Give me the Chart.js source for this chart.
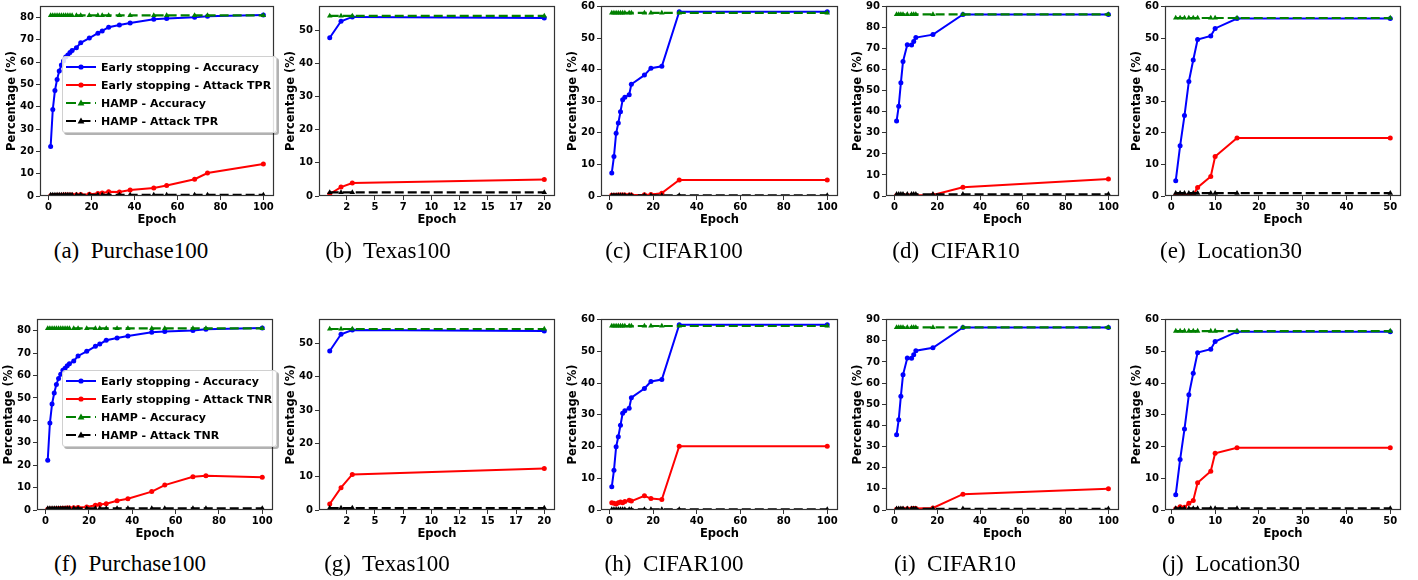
<!DOCTYPE html>
<html>
<head>
<meta charset="utf-8">
<script src="https://cdn.jsdelivr.net/npm/chart.js@4.4.1/dist/chart.umd.min.js"></script>
<style>
body { margin:0; background:#fff; width:1418px; height:580px; position:relative; overflow:hidden; }
canvas { position:absolute; }
.cap { position:absolute; font-family:'Liberation Serif','Times New Roman',serif; font-size:23px; line-height:23px; color:#000; white-space:pre; transform:translateX(-50%); }
.legend { position:absolute; box-sizing:border-box; background:rgba(255,255,255,0.85); border:1px solid #d0d0d0; border-radius:3px; box-shadow:2px 2px 0 rgba(0,0,0,0.3); font-family:'DejaVu Sans',sans-serif; font-weight:bold; font-size:11px; color:#000; }
.legend .row { position:absolute; left:2px; height:18px; display:flex; align-items:center; white-space:nowrap; }
</style>
</head>
<body>
<script>
// Purchase100
let purchaseEpochs = [1,2,3,4,5,6,7,8,9,10,11,13,15,19,23,25,28,33,38,49,55,68,74,100];
let purchaseAcc = [22.2,38.8,47.3,52.2,56.0,58.7,60.5,62.3,63.2,64.3,65.2,66.5,68.7,70.8,73.0,74.0,75.7,76.7,77.6,79.3,79.6,80.1,80.6,81.2];
let purchaseTPR = [0.1,0.2,0.2,0.3,0.3,0.3,0.4,0.4,0.5,0.5,0.5,0.6,0.7,0.8,1.1,1.4,1.9,1.8,2.7,3.6,4.7,7.5,10.3,14.3];
let purchaseTNR = [0.3,0.4,0.5,0.5,0.6,0.6,0.7,0.8,0.8,0.9,0.9,1.0,1.1,1.3,2.1,2.5,2.8,4.1,5.0,8.2,11.1,14.8,15.3,14.6];
let purchaseHampAcc = [81.0,81.0,81.0,81.0,81.0,81.0,81.0,81.0,81.0,81.0,81.0,81.0,81.0,81.0,81.0,81.0,81.0,81.0,81.0,81.0,81.0,81.0,81.0,81.0];
let purchaseHampTPR = [0.5,0.5,0.5,0.5,0.5,0.5,0.5,0.5,0.5,0.5,0.5,0.5,0.5,0.5,0.5,0.5,0.5,0.5,0.5,0.5,0.5,0.5,0.5,0.5];
let purchaseHampTNR = [0.7,0.7,0.7,0.7,0.7,0.7,0.7,0.7,0.7,0.7,0.7,0.7,0.7,0.7,0.7,0.7,0.7,0.7,0.7,0.7,0.7,0.7,0.7,0.7];

// Texas100
let texasEpochs = [1,2,3,20];
let texasAcc = [47.8,52.8,54.1,53.8];
let texasTPR = [0.6,2.7,3.9,5.0];
let texasTNR = [1.8,6.7,10.7,12.5];
let texasHampAcc = [54.4,54.4,54.4,54.4];
let texasHampTPR = [1.1,1.1,1.1,1.1];
let texasHampTNR = [0.6,0.6,0.6,0.6];

// CIFAR100
let cifar100Epochs = [1,2,3,4,5,6,7,9,10,16,19,24,32,100];
let cifar100Acc = [7.3,12.5,19.9,23.1,26.7,30.5,31.3,32.1,35.4,38.3,40.5,41.1,58.4,58.4];
let cifar100TPR = [0.2,0.2,0.2,0.3,0.3,0.3,0.3,0.3,0.3,0.4,0.5,0.9,5.1,5.1];
let cifar100TNR = [2.3,2.1,1.9,2.3,2.5,2.3,2.7,3.1,2.8,4.5,3.6,3.3,20.1,20.1];
let cifar100HampAcc = [58.0,58.0,58.0,58.0,58.0,58.0,58.0,58.0,58.0,58.0,58.0,58.0,58.0,58.0];
let cifar100HampTPR = [0.2,0.2,0.2,0.2,0.2,0.2,0.2,0.2,0.2,0.2,0.2,0.2,0.2,0.2];
let cifar100HampTNR = [0.2,0.2,0.2,0.2,0.2,0.2,0.2,0.2,0.2,0.2,0.2,0.2,0.2,0.2];

// CIFAR10
let cifar10Epochs = [1,2,3,4,6,8,9,10,18,32,100];
let cifar10Acc = [35.6,42.7,53.8,63.9,71.9,71.8,73.4,75.3,76.7,86.3,86.3];
let cifar10TPR = [0.2,0.2,0.2,0.3,0.3,0.3,0.4,0.4,0.5,4.2,8.1];
let cifar10TNR = [0.3,0.4,0.4,0.5,0.6,0.6,0.7,0.7,1.0,7.5,10.1];
let cifar10HampAcc = [86.3,86.3,86.3,86.3,86.3,86.3,86.3,86.3,86.3,86.3,86.3];
let cifar10HampTPR = [0.8,0.8,0.8,0.8,0.8,0.8,0.8,0.8,0.8,0.8,0.8];
let cifar10HampTNR = [0.6,0.6,0.6,0.6,0.6,0.6,0.6,0.6,0.6,0.6,0.6];

// Location30
let locationEpochs = [1,2,3,4,5,6,9,10,15,50];
let locationAcc = [4.8,15.9,25.5,36.3,43.1,49.6,50.7,53.1,56.2,56.2];
let locationTPR = [0.1,0.1,0.2,0.2,0.3,2.7,6.2,12.5,18.4,18.4];
let locationTNR = [0.4,1.0,0.9,2.1,3.0,8.6,12.2,17.9,19.6,19.6];
let locationHampAcc = [56.4,56.4,56.4,56.4,56.4,56.4,56.4,56.4,56.4,56.4];
let locationHampTPR = [0.9,0.9,0.9,0.9,0.9,0.9,0.9,0.9,0.9,0.9];
let locationHampTNR = [0.5,0.5,0.5,0.5,0.5,0.5,0.5,0.5,0.5,0.5];

// tick labels
let purchaseYTicks = [0,10,20,30,40,50,60,70,80];
let texasYTicks = [0,10,20,30,40,50];
let cifar100YTicks = [0,10,20,30,40,50,60];
let cifar10YTicks = [0,10,20,30,40,50,60,70,80,90];
let locationYTicks = [0,10,20,30,40,50,60];
let epochTicks100 = [0,20,40,60,80,100];
let texasXTicks = [2.5,5,7.5,10,12.5,15,17.5,20];
let texasXLabels = ['2','5','7','10','12','15','17','20'];
let locationXTicks = [0,10,20,30,40,50];

const YW = 40, PR = 8, PT = 6, XH = 32;
const tickFont = { family: "'DejaVu Sans', sans-serif", size: 10, weight: 'bold' };
const titleFont = { family: "'DejaVu Sans', sans-serif", size: 11.5, weight: 'bold' };

const panels = [
    { cap:'(a)  Purchase100', ep:purchaseEpochs, acc:purchaseAcc, atk:purchaseTPR, hAcc:purchaseHampAcc, hAtk:purchaseHampTPR, kind:'TPR',
      xt:epochTicks100, yt:purchaseYTicks, xMin:-3.95, xMax:104.95, yMax:85.2, left:40, right:274, top:4, bottom:196, capX:131, capY:239, legend:[62,56] },
    { cap:'(b)  Texas100', ep:texasEpochs, acc:texasAcc, atk:texasTPR, hAcc:texasHampAcc, hAtk:texasHampTPR,
      xt:texasXTicks, xl:texasXLabels, yt:texasYTicks, xMin:0.05, xMax:20.95, yMax:57.4, left:319, right:555, top:4, bottom:196, capX:388, capY:239 },
    { cap:'(c)  CIFAR100', ep:cifar100Epochs, acc:cifar100Acc, atk:cifar100TPR, hAcc:cifar100HampAcc, hAtk:cifar100HampTPR,
      xt:epochTicks100, yt:cifar100YTicks, xMin:-3.95, xMax:104.95, yMax:60.2, left:601, right:838, top:4, bottom:196, capX:674, capY:239 },
    { cap:'(d)  CIFAR10', ep:cifar10Epochs, acc:cifar10Acc, atk:cifar10TPR, hAcc:cifar10HampAcc, hAtk:cifar10HampTPR,
      xt:epochTicks100, yt:cifar10YTicks, xMin:-3.95, xMax:104.95, yMax:90.3, left:886, right:1119, top:4, bottom:196, capX:956, capY:239 },
    { cap:'(e)  Location30', ep:locationEpochs, acc:locationAcc, atk:locationTPR, hAcc:locationHampAcc, hAtk:locationHampTPR,
      xt:locationXTicks, yt:locationYTicks, xMin:-1.45, xMax:52.45, yMax:60.2, left:1165, right:1401, top:4, bottom:196, capX:1231, capY:239 },
    { cap:'(f)  Purchase100', ep:purchaseEpochs, acc:purchaseAcc, atk:purchaseTNR, hAcc:purchaseHampAcc, hAtk:purchaseHampTNR, kind:'TNR',
      xt:epochTicks100, yt:purchaseYTicks, xMin:-3.95, xMax:104.95, yMax:85.2, left:37, right:273, top:317, bottom:510, capX:130, capY:552, legend:[62,370] },
    { cap:'(g)  Texas100', ep:texasEpochs, acc:texasAcc, atk:texasTNR, hAcc:texasHampAcc, hAtk:texasHampTNR,
      xt:texasXTicks, xl:texasXLabels, yt:texasYTicks, xMin:0.05, xMax:20.95, yMax:57.4, left:319, right:555, top:317, bottom:510, capX:387, capY:552 },
    { cap:'(h)  CIFAR100', ep:cifar100Epochs, acc:cifar100Acc, atk:cifar100TNR, hAcc:cifar100HampAcc, hAtk:cifar100HampTNR,
      xt:epochTicks100, yt:cifar100YTicks, xMin:-3.95, xMax:104.95, yMax:60.2, left:601, right:838, top:317, bottom:510, capX:674, capY:552 },
    { cap:'(i)  CIFAR10', ep:cifar10Epochs, acc:cifar10Acc, atk:cifar10TNR, hAcc:cifar10HampAcc, hAtk:cifar10HampTNR,
      xt:epochTicks100, yt:cifar10YTicks, xMin:-3.95, xMax:104.95, yMax:90.3, left:886, right:1119, top:317, bottom:510, capX:955, capY:552 },
    { cap:'(j)  Location30', ep:locationEpochs, acc:locationAcc, atk:locationTNR, hAcc:locationHampAcc, hAtk:locationHampTNR,
      xt:locationXTicks, yt:locationYTicks, xMin:-1.45, xMax:52.45, yMax:60.2, left:1165, right:1401, top:317, bottom:510, capX:1231, capY:552 },
];

// box around the plot like matplotlib spines
const framePlugin = {
    id: 'frame',
    afterDraw(chart) {
        let a = chart.chartArea, c = chart.ctx;
        c.save();
        c.strokeStyle = '#333';
        c.lineWidth = 1.2;
        c.strokeRect(Math.round(a.left) + 0.5, Math.round(a.top) + 0.5, Math.round(a.right - a.left) - 1, Math.round(a.bottom - a.top) - 1);
        c.restore();
    }
};

function series(label, xs, ys, color, dashed, order) {
    return {
        label: label,
        data: xs.map((x, i) => ({ x: x, y: ys[i] })),
        borderColor: color,
        backgroundColor: color,
        borderWidth: dashed ? 2.2 : 2,
        borderDash: dashed ? [9, 4] : [],
        pointStyle: dashed ? 'triangle' : 'circle',
        pointRadius: dashed ? 3.2 : 2.5,
        pointBorderWidth: 0,
        order: order,
    };
}

function sample(color, dashed) {
    let s = '<svg width="32" height="12" style="margin-right:4px;flex:none">';
    s += '<line x1="1" y1="6" x2="31" y2="6" stroke="' + color + '" stroke-width="2"' + (dashed ? ' stroke-dasharray="10,4.5"' : '') + '/>';
    s += dashed ? '<polygon points="16,2.6 19.4,8.6 12.6,8.6" fill="' + color + '"/>' : '<circle cx="16" cy="6" r="2.6" fill="' + color + '"/>';
    return s + '</svg>';
}

function addLegend(p) {
    let box = document.createElement('div');
    box.className = 'legend';
    box.style.left = p.legend[0] + 'px';
    box.style.top = p.legend[1] + 'px';
    box.style.width = '215px';
    box.style.height = '77px';
    let items = [
        ['Early stopping - Accuracy', 'blue', false],
        ['Early stopping - Attack ' + p.kind, 'red', false],
        ['HAMP - Accuracy', 'green', true],
        ['HAMP - Attack ' + p.kind, 'black', true],
    ];
    items.forEach((it, i) => {
        let row = document.createElement('div');
        row.className = 'row';
        row.style.top = (1 + i * 18) + 'px';
        row.innerHTML = sample(it[1], it[2]) + '<span>' + it[0] + '</span>';
        box.appendChild(row);
    });
    document.body.appendChild(box);
}

panels.forEach(p => {
    let cv = document.createElement('canvas');
    let w = p.right - p.left + YW + PR, h = p.bottom - p.top + PT + XH;
    cv.width = w; cv.height = h;
    cv.style.left = (p.left - YW) + 'px';
    cv.style.top = (p.top - PT) + 'px';
    cv.style.width = w + 'px';
    cv.style.height = h + 'px';
    document.body.appendChild(cv);

    new Chart(cv.getContext('2d'), {
        type: 'line',
        data: {
            datasets: [
                series('Early stopping - Accuracy', p.ep, p.acc, 'blue', false, 4),
                series('Early stopping - Attack', p.ep, p.atk, 'red', false, 3),
                series('HAMP - Accuracy', p.ep, p.hAcc, 'green', true, 2),
                series('HAMP - Attack', p.ep, p.hAtk, 'black', true, 1),
            ]
        },
        options: {
            responsive: false,
            animation: false,
            layout: { padding: { top: PT, right: PR, left: 0, bottom: 0 } },
            plugins: { legend: { display: false }, tooltip: { enabled: false } },
            scales: {
                x: {
                    type: 'linear',
                    min: p.xMin, max: p.xMax,
                    afterBuildTicks: s => { s.ticks = p.xt.map(v => ({ value: v })); },
                    afterFit: s => { s.height = XH; },
                    ticks: {
                        autoSkip: false, maxRotation: 0, padding: 1, color: '#000', font: tickFont,
                        callback: (v, i) => p.xl ? p.xl[i] : v
                    },
                    grid: { drawOnChartArea: false, tickLength: 4, color: '#333' },
                    border: { display: false },
                    title: { display: true, text: 'Epoch', color: '#000', font: titleFont, padding: { top: 0, bottom: 1 } }
                },
                y: {
                    min: 0, max: p.yMax,
                    afterBuildTicks: s => { s.ticks = p.yt.map(v => ({ value: v })); },
                    afterFit: s => { s.width = YW; },
                    ticks: { autoSkip: false, padding: 2, color: '#000', font: tickFont },
                    grid: { drawOnChartArea: false, tickLength: 4, color: '#333' },
                    border: { display: false },
                    title: { display: true, text: 'Percentage (%)', color: '#000', font: titleFont, padding: { top: 5, bottom: 0 } }
                }
            }
        },
        plugins: [framePlugin]
    });

    let cap = document.createElement('div');
    cap.className = 'cap';
    cap.textContent = p.cap;
    cap.style.left = p.capX + 'px';
    cap.style.top = p.capY + 'px';
    document.body.appendChild(cap);

    if (p.legend) addLegend(p);
});
</script>
</body>
</html>
